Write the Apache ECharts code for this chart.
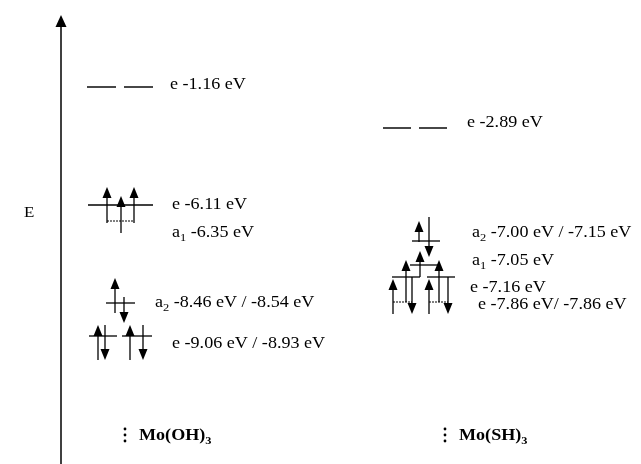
<!DOCTYPE html>
<html><head><meta charset="utf-8">
<script src="https://cdn.jsdelivr.net/npm/echarts@6/dist/echarts.min.js"></script>
<style>html,body{margin:0;padding:0;background:#fff}#c{width:641px;height:464px}</style>
</head><body><div id="c"></div>
<script>
// ---- Diagram data (schematic units: x across, y down the energy axis) ----
const energyAxis = [[61, 464, 15]];               // [x, tail, tip]
const axisTitle = ['E'];
const axisTitlePos = [[24, 213]];

// Mo(OH)3
const ohEmptyLevels = [[87, 116, 87], [124, 153, 87]];          // e -1.16 (unoccupied)
const ohLevels = [[88, 153, 205], [106, 135, 303], [89, 117, 336], [122, 152, 336]];
const ohThinLevels = [[107, 134, 221]];
const ohSpinUp = [[107, 223, 187], [121, 233, 196], [134, 223, 187], [115, 313, 278], [98, 360, 325], [130, 360, 325]];
const ohSpinDown = [[124, 297, 323], [105, 325, 360], [143, 325, 360]];
const ohLabels = [
  ['e', '', ' -1.16 eV'],
  ['e', '', ' -6.11 eV'],
  ['a', '1', ' -6.35 eV'],
  ['a', '2', ' -8.46 eV / -8.54 eV'],
  ['e', '', ' -9.06 eV / -8.93 eV']
];
const ohLabelPos = [[170, 84], [172, 204], [172, 232], [155, 302], [172, 343]];

// Mo(SH)3
const shEmptyLevels = [[383, 411, 128], [419, 447, 128]];        // e -2.89 (unoccupied)
const shLevels = [[412, 440, 241], [410, 438, 265], [392, 420, 277], [427, 455, 277]];
const shThinLevels = [[393, 412, 302], [429, 448, 302]];
const shSpinUp = [[419, 242, 221], [420, 277, 251], [406, 302, 260], [439, 302, 260], [393, 314, 279], [429, 314, 279]];
const shSpinDown = [[429, 217, 257], [412, 277, 314], [448, 277, 314]];
const shLabels = [
  ['e', '', ' -2.89 eV'],
  ['a', '2', ' -7.00 eV / -7.15 eV'],
  ['a', '1', ' -7.05 eV'],
  ['e', '', ' -7.16 eV'],
  ['e', '', ' -7.86 eV/ -7.86 eV']
];
const shLabelPos = [[467, 122], [472, 232], [472, 260], [470, 287], [478, 304]];

// Molecule names
const molecules = [['Mo(OH)', '3'], ['Mo(SH)', '3']];
const moleculePos = [[125, 435], [445, 435]];

// ---- Rendering helpers ----
const FONT = '"Liberation Serif", "Times New Roman", serif';
const STRETCH = 1.13;   // the reference type is slightly wider than tall
function segmentSeries(data, color, width, dash) {
  return {
    type: 'custom', data: data, encode: { x: [0, 1], y: 2 }, silent: true,
    renderItem: function (params, api) {
      const a = api.coord([api.value(0), api.value(2)]);
      const b = api.coord([api.value(1), api.value(2)]);
      return { type: 'line', shape: { x1: a[0], y1: a[1], x2: b[0], y2: b[1] },
        style: { stroke: color, lineWidth: width, lineDash: dash || null } };
    }
  };
}
function arrowSeries(data, headW, headH, width) {
  return {
    type: 'custom', data: data, encode: { x: 0, y: [1, 2] }, silent: true,
    renderItem: function (params, api) {
      const tail = api.coord([api.value(0), api.value(1)]);
      const tip = api.coord([api.value(0), api.value(2)]);
      const dir = tip[1] < tail[1] ? 1 : -1;           // 1: pointing up
      const baseY = tip[1] + dir * headH;
      return { type: 'group', children: [
        { type: 'line', shape: { x1: tail[0], y1: tail[1], x2: tip[0], y2: baseY },
          style: { stroke: '#000', lineWidth: width } },
        { type: 'polygon', shape: { points: [[tip[0], tip[1]], [tip[0] - headW / 2, baseY], [tip[0] + headW / 2, baseY]] },
          style: { fill: '#000' } }
      ] };
    }
  };
}
function richStyles(size, bold) {
  const w = bold ? 'bold' : 'normal';
  return {
    m: { fontFamily: FONT, fontSize: size, fontWeight: w, fill: '#000', verticalAlign: 'bottom', lineHeight: size + 2 },
    s: { fontFamily: FONT, fontSize: Math.round(size * 0.68), fontWeight: w, fill: '#000', verticalAlign: 'bottom', padding: [0, 0, -3, 0], lineHeight: size + 2 }
  };
}
function labelSeries(labels, pos, size, bold) {
  return {
    type: 'custom', data: pos, encode: { x: 0, y: 1 }, silent: true,
    renderItem: function (params, api) {
      const p = api.coord([api.value(0), api.value(1)]);
      const l = labels[params.dataIndex];
      const text = '{m|' + l[0] + '}' + (l[1] ? '{s|' + l[1] + '}' : '') + '{m|' + l[2] + '}';
      return { type: 'text', x: p[0], y: p[1], scaleX: STRETCH, style: {
        text: text, align: 'left', verticalAlign: 'middle', fill: '#000', rich: richStyles(size, bold)
      } };
    }
  };
}
function moleculeSeries() {
  return {
    type: 'custom', data: moleculePos, encode: { x: 0, y: 1 }, silent: true,
    renderItem: function (params, api) {
      const p = api.coord([api.value(0), api.value(1)]);
      const m = molecules[params.dataIndex];
      return { type: 'group', children: [
        { type: 'circle', shape: { cx: p[0], cy: p[1] - 6, r: 1.4 }, style: { fill: '#000' } },
        { type: 'circle', shape: { cx: p[0], cy: p[1], r: 1.4 }, style: { fill: '#000' } },
        { type: 'circle', shape: { cx: p[0], cy: p[1] + 6, r: 1.4 }, style: { fill: '#000' } },
        { type: 'text', x: p[0] + 14, y: p[1], scaleX: STRETCH, style: {
          text: '{m|' + m[0] + '}{s|' + m[1] + '}', align: 'left', verticalAlign: 'middle',
          rich: richStyles(16, true) } }
      ] };
    }
  };
}
function titleSeries() {
  return {
    type: 'custom', data: axisTitlePos, encode: { x: 0, y: 1 }, silent: true,
    renderItem: function (params, api) {
      const p = api.coord([api.value(0), api.value(1)]);
      return { type: 'text', x: p[0], y: p[1], scaleX: STRETCH, style: { text: axisTitle[params.dataIndex],
        fontFamily: FONT, fontSize: 15, fill: '#000', align: 'left', verticalAlign: 'middle' } };
    }
  };
}

const chart = echarts.init(document.getElementById('c'), null, { renderer: 'canvas' });
chart.setOption({
  animation: false,
  backgroundColor: '#fff',
  grid: { left: 0, right: 0, top: 0, bottom: 0 },
  xAxis: { type: 'value', min: 0, max: 641, show: false },
  yAxis: { type: 'value', min: 0, max: 464, inverse: true, show: false },
  series: [
    arrowSeries(energyAxis, 11, 12, 1.5),
    titleSeries(),
    segmentSeries(ohEmptyLevels, '#333', 1.8),
    segmentSeries(ohLevels, '#000', 1.3),
    segmentSeries(ohThinLevels, '#000', 1, [2, 1]),
    arrowSeries(ohSpinUp, 9, 11, 1.3),
    arrowSeries(ohSpinDown, 9, 11, 1.3),
    labelSeries(ohLabels, ohLabelPos, 16, false),
    segmentSeries(shEmptyLevels, '#333', 1.8),
    segmentSeries(shLevels, '#000', 1.3),
    segmentSeries(shThinLevels, '#000', 1, [2, 1]),
    arrowSeries(shSpinUp, 9, 11, 1.3),
    arrowSeries(shSpinDown, 9, 11, 1.3),
    labelSeries(shLabels, shLabelPos, 16, false),
    moleculeSeries()
  ]
});
</script></body></html>
